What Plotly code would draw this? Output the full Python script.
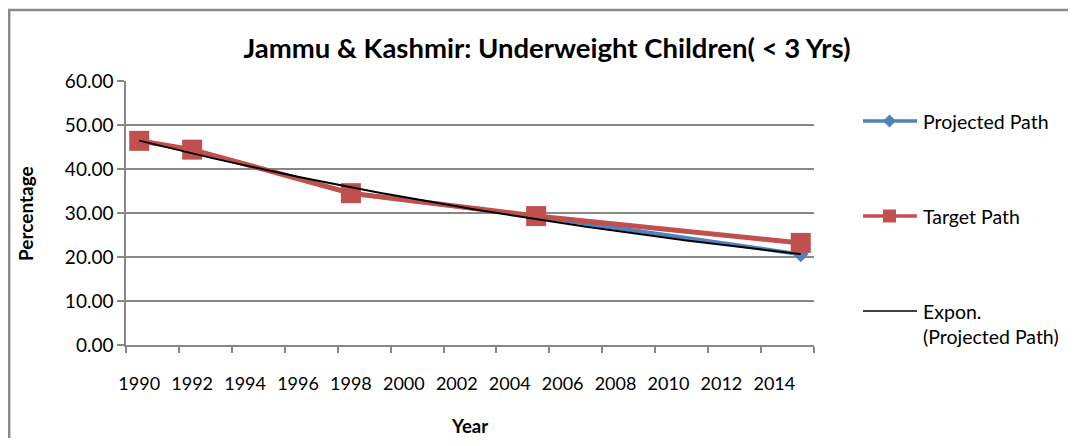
import numpy as np
import plotly.graph_objects as go

# ---- data ----
years = [1990, 1992, 1998, 2005, 2015]
projected_path = [46.4, 44.4, 34.5, 29.2, 20.6]
target_path = [46.4, 44.4, 34.5, 29.3, 23.2]
tick_years = list(range(1990, 2015, 2))
y_ticks = [0, 10, 20, 30, 40, 50, 60]

title_text = "Jammu & Kashmir: Underweight Children( < 3 Yrs)"
x_title = "Year"
y_title = "Percentage"
legend_names = ["Projected Path", "Target Path", "Expon.<br>(Projected Path)"]

BLUE = "#4F81BD"
RED = "#C0504D"
GRID = "#878787"
FONT = "Lato"

# exponential trendline (least squares on log values, like Excel)
xa = np.array(years, dtype=float)
b, lna = np.polyfit(xa - years[0], np.log(projected_path), 1)
xt = np.linspace(years[0], years[-1], 200)
yt = np.exp(lna + b * (xt - years[0]))

OFF = 8  # page body margin
W, H = 1076 - 2 * OFF, 446 - 2 * OFF
# plot area in window pixels
L, R, T, B = 126, 814, 81, 345


def px(x):
    return (x - L) / (R - L)


def py(y):
    return (B - y) / (B - T)


fig = go.Figure()
fig.add_trace(go.Scatter(
    x=years, y=projected_path, mode="lines+markers", name=legend_names[0],
    line=dict(color=BLUE, width=4),
    marker=dict(symbol="diamond", size=12, color=BLUE),
))
fig.add_trace(go.Scatter(
    x=years, y=target_path, mode="lines+markers", name=legend_names[1],
    line=dict(color=RED, width=5),
    marker=dict(symbol="square", size=20, color=RED),
))
fig.add_trace(go.Scatter(
    x=xt, y=yt, mode="lines", name=legend_names[2],
    line=dict(color="black", width=2),
))

shapes = []
annotations = []
# outer chart border (only left/top edges visible in the frame)
border = dict(color="#8A8A8A", width=2.5)
shapes.append(dict(type="line", xref="paper", yref="paper",
                   x0=px(OFF + 1.2), x1=px(OFF + 1.2), y0=py(OFF + H + 5), y1=py(9),
                   line=border, layer="above"))
shapes.append(dict(type="line", xref="paper", yref="paper",
                   x0=px(OFF), x1=px(OFF + W + 5), y0=py(10), y1=py(10),
                   line=border, layer="above"))

# manual legend
leg_items = [
    (121, BLUE, 3.5, "diamond"),
    (216, RED, 3.5, "square"),
    (311, "black", 1.5, None),
]
for i, (yy, col, lw, sym) in enumerate(leg_items):
    shapes.append(dict(type="line", xref="paper", yref="paper",
                       x0=px(863), x1=px(917), y0=py(yy), y1=py(yy),
                       line=dict(color=col, width=lw)))
    if sym == "square":
        shapes.append(dict(type="rect", xref="paper", yref="paper",
                           x0=px(883), x1=px(896), y0=py(yy + 6.5), y1=py(yy - 6.5),
                           fillcolor=col, line=dict(width=0)))
    elif sym == "diamond":
        pts = [(889.5, yy - 6.5), (896, yy), (889.5, yy + 6.5), (883, yy)]
        path = "M " + " L ".join(f"{px(a):.5f},{py(c):.5f}" for a, c in pts) + " Z"
        shapes.append(dict(type="path", xref="paper", yref="paper", path=path,
                           fillcolor=col, line=dict(width=0)))
    annotations.append(dict(xref="paper", yref="paper", x=px(921), y=py(yy if i < 2 else 324),
                            xanchor="left", yanchor="middle", align="left",
                            text=legend_names[i], showarrow=False,
                            font=dict(family=FONT, size=19.5, color="black")))

# axis titles
annotations.append(dict(xref="paper", yref="paper", x=px(469), y=py(426),
                        xanchor="center", yanchor="middle", text=f"<b>{x_title}</b>",
                        showarrow=False, borderpad=0,
                        font=dict(family=FONT, size=18.5, color="black")))
annotations.append(dict(xref="paper", yref="paper", x=px(25), y=py(213),
                        xanchor="center", yanchor="middle", text=f"<b>{y_title}</b>",
                        textangle=-90, showarrow=False,
                        font=dict(family=FONT, size=19, color="black")))

fig.update_layout(
    width=W, height=H,
    margin=dict(l=L - OFF, r=W - (R - OFF), t=T - OFF, b=H - (B - OFF)),
    paper_bgcolor="white", plot_bgcolor="white",
    showlegend=False,
    title=dict(text=f"<b>{title_text}</b>", x=(547 - OFF) / W, xanchor="center",
               y=1 - (48 - OFF) / H, yanchor="middle", yref="container",
               font=dict(family=FONT, size=27.5, color="black")),
    font=dict(family=FONT, size=18, color="black"),
    shapes=shapes, annotations=annotations,
)
fig.update_xaxes(
    range=[1989.5, 2015.5], tickmode="array", tickvals=tick_years,
    ticktext=[str(t) for t in tick_years], ticks="", showgrid=False,
    showline=True, linecolor=GRID, linewidth=1.5, zeroline=False,
    ticklabelstandoff=22,
    tickfont=dict(family=FONT, size=18, color="black"),
    minor=dict(tickmode="linear", tick0=1989.5, dtick=2, ticks="outside",
               ticklen=6, tickcolor=GRID, tickwidth=1.5, showgrid=False),
)
fig.update_yaxes(
    range=[0, 60], tickmode="array", tickvals=y_ticks, tickformat=".2f",
    showgrid=True, gridcolor=GRID, gridwidth=1.5,
    showline=True, linecolor=GRID, linewidth=1.5, zeroline=False,
    ticks="outside", ticklen=7, tickcolor=GRID, tickwidth=1.5,
    tickfont=dict(family=FONT, size=19, color="black"),
)

fig.write_html("out.html")
